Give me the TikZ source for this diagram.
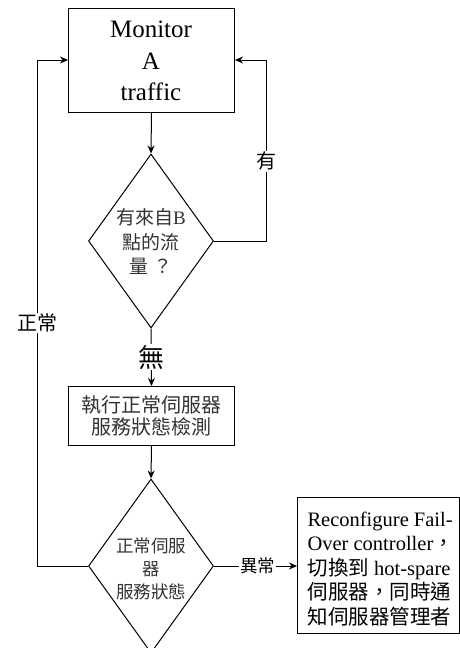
\documentclass[tikz,border=0pt]{standalone}
\usepackage{fontspec}
\setmainfont{Liberation Serif}
\newfontfamily\cj{Noto Sans CJK TC}
\usetikzlibrary{shapes.geometric,arrows.meta}
\tikzset{
  box/.style={draw, line width=1pt, inner sep=0pt, anchor=north west},
  dia/.style={draw, diamond, line width=1pt, minimum width=125pt, minimum height=174pt, inner sep=0pt},
  conn/.style={line width=1pt, -{Stealth[length=8pt,width=7pt]}},
  lbl/.style={fill=white, inner sep=1pt, font=\cj},
  body/.style={align=center, text=black!80}
}
\begin{document}
\begin{tikzpicture}[x=1pt,y=-1pt]
\useasboundingbox (0,0) rectangle (459,648);
% nodes
\node[box, minimum width=166pt, minimum height=104pt] (mon) at (68,8) {};
\node[align=center, font=\fontsize{25}{31.5}\selectfont] (montxt) at (151,61) {Monitor\\A\\traffic};
\node[dia] (d1) at (151,241) {};
\node[body, font=\fontsize{19}{24.5}\selectfont] (d1txt) at (151,242) {{\cj 有來自}B\\{\cj 點的流}\\{\cj 量 ？}};
\node[box, minimum width=166pt, minimum height=59pt] (chk) at (68,386) {};
\node[body, font=\fontsize{20}{22.5}\selectfont\cj] (chktxt) at (151,416) {執行正常伺服器\\服務狀態檢測};
\node[dia] (d2) at (151,566) {};
\node[body, font=\fontsize{17.5}{23}\selectfont\cj] (d2txt) at (151,569) {正常伺服\\器\\服務狀態};
\node[box, minimum width=162pt, minimum height=136pt] (rec) at (297,497) {};
\node[align=left, anchor=west, font=\fontsize{20.5}{24.5}\selectfont] (rectxt) at (304,569) {Reconfigure Fail-\\Over controller{\cj ，}\\{\cj 切換到} hot-spare\\{\cj 伺服器，同時通}\\{\cj 知伺服器管理者}};
% connectors
\coordinate (rtop) at (266,60);
\coordinate (rbot) at (266,241);
\coordinate (ltop) at (37,60);
\coordinate (lbot) at (37,566);
\draw[conn] (mon.south) -- (d1.north);
\draw[conn] (d1.east) -- (rbot) -- node[lbl, font=\fontsize{20}{20}\selectfont\cj, pos=0.44] (you) {有} (rtop) -- (mon.east |- rtop);
\draw[conn] (d1.south) -- node[lbl, font=\fontsize{26}{26}\selectfont\cj, pos=0.5] (wu) {無} (chk.north);
\draw[conn] (chk.south) -- (d2.north);
\draw[conn] (d2.west) -- (lbot) -- node[lbl, font=\fontsize{20}{20}\selectfont\cj, pos=0.48] (zc) {正常} (ltop) -- (mon.west |- ltop);
\draw[conn] (d2.east) -- node[lbl, font=\fontsize{17.5}{17.5}\selectfont\cj, pos=0.53] (yc) {異常} (rec.west |- d2.east);
\end{tikzpicture}
\end{document}
